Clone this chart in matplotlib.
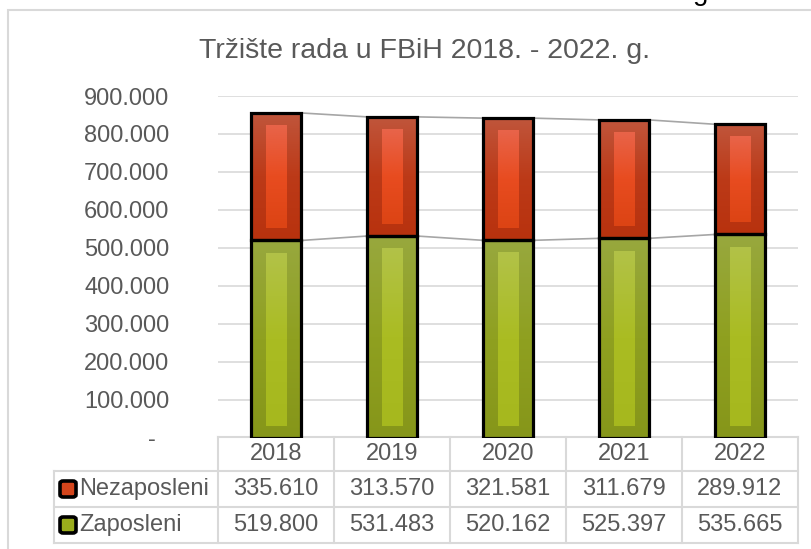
import matplotlib as mpl
mpl.use('Agg')
import matplotlib.pyplot as plt
import numpy as np
from matplotlib.patches import Rectangle, FancyBboxPatch
from matplotlib.colors import LinearSegmentedColormap
from matplotlib.ticker import FuncFormatter, MultipleLocator
import matplotlib.transforms as mtransforms

plt.rcParams['font.family'] = ['Liberation Sans', 'DejaVu Sans']

# data
years = ["2018", "2019", "2020", "2021", "2022"]
nezaposleni = [335610, 313570, 321581, 311679, 289912]
zaposleni = [519800, 531483, 520162, 525397, 535665]
series_names = ["Nezaposleni", "Zaposleni"]
title = "Tržište rada u FBiH 2018. - 2022. g."

W, H = 812, 549
TXT = "#595959"
GRID = "#d9d9d9"


def fx(x):
    return x / W


def fy(y):
    return 1 - y / H


def fmt(v, pos=None):
    if v == 0:
        return "-  "
    return f"{int(v):,}".replace(",", ".")


fig = plt.figure(figsize=(W / 100, H / 100), dpi=100)
fig.patch.set_facecolor("white")

# outer chart border (runs off the right and bottom edges)
fig.add_artist(Rectangle((fx(8), -0.1), 1.2, fy(10) + 0.1, transform=fig.transFigure,
                         fill=False, edgecolor=GRID, linewidth=1.5))

# cut-off text at the very top
fig.text(fx(701), 1.0, "g", ha="center", va="baseline", fontsize=20, color="black")

ax_left, ax_right, ax_top, ax_bot = 218, 798, 96, 438
ax = fig.add_axes([fx(ax_left), fy(ax_bot), fx(ax_right - ax_left), (ax_bot - ax_top) / H])
ax.set_xlim(-0.5, len(years) - 0.5)
ax.set_ylim(0, 900000)
for s in ax.spines.values():
    s.set_visible(False)
ax.yaxis.set_major_locator(MultipleLocator(100000))
ax.yaxis.set_major_formatter(FuncFormatter(fmt))
ax.tick_params(axis="y", length=0, pad=35, labelsize=17, labelcolor=TXT)
ax.set_xticks([])
ax.grid(axis="y", color=GRID, linewidth=1.2)
ax.set_axisbelow(True)

fig.text(fx(425), fy(51), title, ha="center", va="center", fontsize=20.5, color=TXT)

x = np.arange(len(years))
bw = 0.43
inner_w = 0.18
inset = 32000

red_outer = LinearSegmentedColormap.from_list("ro", ["#c0563c", "#bc3a18", "#b8320e"])
red_inner = LinearSegmentedColormap.from_list("ri", ["#e8644a", "#e84c20", "#dc4414"])
grn_outer = LinearSegmentedColormap.from_list("go", ["#98a83e", "#8fa020", "#86961a"])
grn_inner = LinearSegmentedColormap.from_list("gi", ["#b2c248", "#aabc22", "#a6b81e"])

grad = np.linspace(0, 1, 256).reshape(-1, 1)


def grad_bars(xs, bottoms, heights, width, cmap, z):
    bars = ax.bar(xs, heights, width, bottom=bottoms, color=cmap(1.0), linewidth=0, zorder=z)
    for b in bars:
        x0, y0 = b.get_x(), b.get_y()
        im = ax.imshow(grad, cmap=cmap, extent=(x0, x0 + b.get_width(), y0, y0 + b.get_height()),
                       aspect="auto", origin="upper", zorder=z + 0.1)
        im.set_clip_path(b)
    return bars


zap = np.array(zaposleni)
nez = np.array(nezaposleni)
tot = zap + nez

grad_bars(x, 0, zap, bw, grn_outer, 2)
grad_bars(x, inset, zap - 2 * inset, inner_w, grn_inner, 2.5)
grad_bars(x, zap, nez, bw, red_outer, 2)
grad_bars(x, zap + inset, nez - 2 * inset, inner_w, red_inner, 2.5)
ax.bar(x, zap, bw, fill=False, edgecolor="black", linewidth=2.3, zorder=4)
ax.bar(x, nez, bw, bottom=zap, fill=False, edgecolor="black", linewidth=2.3, zorder=4)

# series lines
for i in range(len(years) - 1):
    for top in (zap, tot):
        ax.plot([x[i] + bw / 2, x[i + 1] - bw / 2], [top[i], top[i + 1]],
                color="#a6a6a6", linewidth=1.2, zorder=3)

ax.set_xlim(-0.5, len(years) - 0.5)
ax.set_ylim(0, 900000)

# data table under the plot
trans = mtransforms.blended_transform_factory(ax.transData, fig.transFigure)
row_y = [437, 471, 507, 543]
lab_left = -0.5 + (54 - ax_left) / ((ax_right - ax_left) / len(years))
lk = dict(color=GRID, linewidth=1.5, transform=trans, clip_on=False)
fig_lines = []
# horizontal lines
fig_lines.append(([-0.5, 4.5], [fy(row_y[0])] * 2))
for ry in row_y[1:]:
    fig_lines.append(([lab_left, 4.5], [fy(ry)] * 2))
# vertical lines
for b in np.arange(-0.5, 5.0, 1.0):
    fig_lines.append(([b, b], [fy(row_y[0]), fy(row_y[3])]))
fig_lines.append(([lab_left, lab_left], [fy(row_y[1]), fy(row_y[3])]))
for xs, ys in fig_lines:
    ax.add_line(plt.Line2D(xs, ys, **lk))

for i, yr in enumerate(years):
    ax.text(x[i], fy((row_y[0] + row_y[1]) / 2), yr, transform=trans, ha="center",
            va="center", fontsize=17, color=TXT, clip_on=False)
    ax.text(x[i], fy((row_y[1] + row_y[2]) / 2), fmt(nez[i]), transform=trans, ha="center",
            va="center", fontsize=17, color=TXT, clip_on=False)
    ax.text(x[i], fy((row_y[2] + row_y[3]) / 2), fmt(zap[i]), transform=trans, ha="center",
            va="center", fontsize=17, color=TXT, clip_on=False)

key_cols = ["#d4451c", "#9aac1c"]
for r, (name, kc) in enumerate(zip(series_names, key_cols)):
    cy = (row_y[r + 1] + row_y[r + 2]) / 2
    fig.add_artist(FancyBboxPatch((fx(60), fy(cy + 8)), fx(16), 16 / H,
                                  boxstyle="round,pad=0,rounding_size=0.004",
                                  transform=fig.transFigure, facecolor=kc,
                                  edgecolor="black", linewidth=2.6))
    fig.text(fx(79), fy(cy), name, ha="left", va="center", fontsize=17, color=TXT)

plt.savefig("out.png", dpi=100)
